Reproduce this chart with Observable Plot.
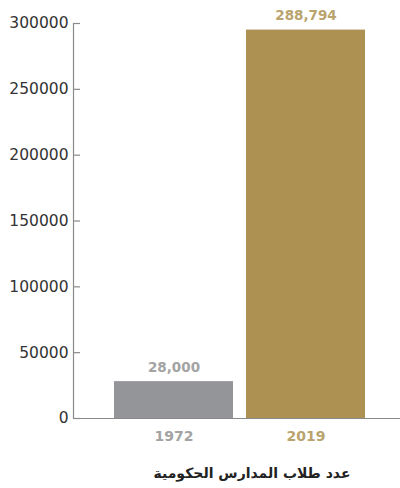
<!DOCTYPE html>
<html><head><meta charset="utf-8">
<script src="https://cdn.jsdelivr.net/npm/d3@7"></script>
<script src="https://cdn.jsdelivr.net/npm/@observablehq/plot@0.6"></script>
<style>
body{margin:0;background:#fff;}
#wrap{width:400px;}
#wrap svg{display:block;}
.cap{width:400px;text-align:center;font-size:14px;color:#222;padding-left:104px;box-sizing:border-box;line-height:20px;margin-top:15px;}
</style></head>
<body><div id="wrap"></div>
<script>
const years = ["1972", "2019"];
const values = [28000, 295000];
const valueLabels = ["28,000", "288,794"];
const barColors = ["#939598", "#ad9152"];
const labelColors = ["#a3a3a3", "#b9a46e"];
const yTicks = [0, 50000, 100000, 150000, 200000, 250000, 300000];
const caption = "عدد طلاب المدارس الحكومية";

const data = years.map((y, i) => ({year: y, value: values[i], label: valueLabels[i], color: barColors[i], lc: labelColors[i]}));
const W = 400, H = 448, ML = 73, MT = 23, MB = 30;

const chart = Plot.plot({
  width: W, height: H,
  marginLeft: ML, marginRight: 0, marginTop: MT, marginBottom: MB,
  style: {fontFamily: "DejaVu Sans, sans-serif", background: "#fff"},
  x: {domain: years, range: [113, 365], paddingInner: 0.1, paddingOuter: 0, axis: null},
  y: {domain: [0, 300000], axis: null},
  marks: [
    Plot.barY(data, {x: "year", y: "value", fill: "color"}),
    Plot.ruleY([0], {stroke: "#8a8a8a", strokeWidth: 1.2}),
    Plot.frame({anchor: "left", stroke: "#8a8a8a", strokeWidth: 1.2}),
    Plot.tickY(yTicks, {y: d => d, stroke: "#8a8a8a", strokeWidth: 1.2, insetRight: W - ML - 7}),
    Plot.axisY(yTicks, {tickSize: 0, tickPadding: 5, fontSize: 15.5, fill: "#333", tickFormat: d => String(d), label: null}),
    Plot.text(data, {x: "year", y: "value", text: "label", fill: "lc", dy: -14, fontSize: 13.5, fontWeight: "bold"}),
    Plot.text(data, {x: "year", y: 0, text: "year", fill: "lc", dy: 18, fontSize: 14, fontWeight: "bold"})
  ]
});
document.getElementById("wrap").appendChild(chart);
const c = document.createElement("div");
c.className = "cap";
c.style.fontFamily = "'DejaVu Sans', 'Noto Sans', sans-serif";
c.style.fontWeight = "bold";
c.setAttribute("dir", "rtl");
c.textContent = caption;
document.getElementById("wrap").appendChild(c);
</script></body></html>
